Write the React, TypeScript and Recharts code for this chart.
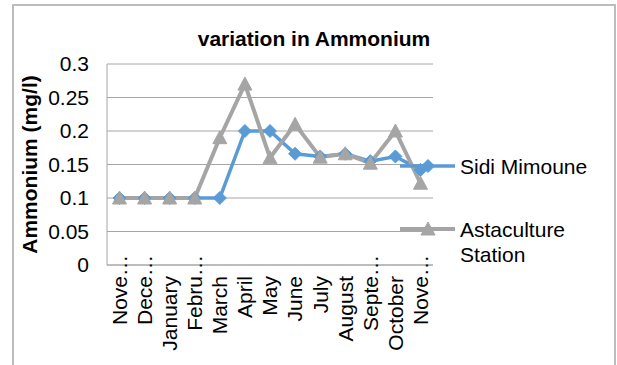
import React from 'react';
import { LineChart, Line, XAxis, YAxis, CartesianGrid, Legend, Label } from 'recharts';

const months = ['Nove…', 'Dece…', 'January', 'Febru…', 'March', 'April', 'May', 'June', 'July', 'August', 'Septe…', 'October', 'Nove…'];
const sidiMimoune = [0.1, 0.1, 0.1, 0.1, 0.1, 0.2, 0.2, 0.166, 0.162, 0.166, 0.155, 0.162, 0.142];
const astaculture = [0.1, 0.1, 0.1, 0.1, 0.19, 0.27, 0.16, 0.21, 0.161, 0.166, 0.152, 0.2, 0.122];
const yTicks = [0, 0.05, 0.1, 0.15, 0.2, 0.25, 0.3];

const data = months.map((m, i) => ({ month: m, sidi: sidiMimoune[i], asta: astaculture[i] }));

const FONT = '"Liberation Sans", Arial, sans-serif';
const FS = 21;
const BLUE = '#5b9bd5';
const GREY = '#a5a5a5';
const GRID = '#a6a6a6';

const Diamond = ({ cx, cy }: any) => (
    <path d={`M${cx},${cy - 6.5} L${cx + 6.5},${cy} L${cx},${cy + 6.5} L${cx - 6.5},${cy} Z`} fill={BLUE} stroke={BLUE} />
);

const Triangle = ({ cx, cy }: any) => (
    <path d={`M${cx},${cy - 7} L${cx + 7},${cy + 6} L${cx - 7},${cy + 6} Z`} fill={GREY} stroke={GREY} />
);

// rotated month label, a trailing ellipsis sticks out above the axis like in Excel
const MonthTick = ({ x, y, payload }: any) => {
    const v: string = payload.value;
    const cut = v.endsWith('…');
    const txt = cut ? v.slice(0, -1) : v;
    return (
        <g transform={`translate(${x},${y})`}>
            <text transform="rotate(-90)" x={-3} dy="0.35em" textAnchor="end" fontSize={FS} fontFamily={FONT} fill="#000">
                {txt}
            </text>
            {cut && (
                <text transform="rotate(-90)" x={-3} dy="0.35em" textAnchor="start" fontSize={FS} fontFamily={FONT} fill="#000">
                    …
                </text>
            )}
        </g>
    );
};

const LegendBox = () => (
    <svg width={215} height={130} style={{ display: 'block' }}>
        <line x1={2} y1={26} x2={57} y2={26} stroke={BLUE} strokeWidth={3.5} />
        <Diamond cx={30} cy={26} />
        <text x={62} y={33.5} fontSize={FS} fontFamily={FONT} fill="#000">Sidi Mimoune</text>
        <line x1={2} y1={89} x2={57} y2={89} stroke={GREY} strokeWidth={4} />
        <Triangle cx={30} cy={89} />
        <text x={62} y={96.5} fontSize={FS} fontFamily={FONT} fill="#000">Astaculture</text>
        <text x={62} y={121.5} fontSize={FS} fontFamily={FONT} fill="#000">Station</text>
    </svg>
);

const App = () => {
    return (
        <div style={{ position: 'absolute', left: 0, top: 0, width: 617, height: 365, overflow: 'hidden', background: '#fff' }}>
            <div style={{ position: 'absolute', left: 12, top: 4, width: 600, height: 380, border: '2px solid #bdbdbd' }} />
            <div
                style={{
                    position: 'absolute', left: 114, top: 28, width: 400, textAlign: 'center',
                    fontFamily: FONT, fontSize: FS, lineHeight: '21px', fontWeight: 'bold', color: '#000',
                }}
            >
                variation in Ammonium
            </div>
            <div style={{ position: 'absolute', left: 0, top: 0 }}>
                <LineChart width={617} height={365} data={data} margin={{ top: 64, right: 184, left: 0, bottom: 0 }}>
                    <CartesianGrid vertical={false} stroke={GRID} />
                    <XAxis
                        dataKey="month"
                        interval={0}
                        height={100}
                        padding={{ left: 12.5, right: 12.5 }}
                        tickLine={false}
                        axisLine={{ stroke: GRID }}
                        tick={(p: any) => <MonthTick {...p} />}
                    />
                    <YAxis
                        width={107}
                        domain={[0, 0.3]}
                        ticks={yTicks}
                        tickLine={false}
                        tickMargin={12}
                        axisLine={{ stroke: GRID }}
                        tick={{ fontSize: FS, fill: '#000', fontFamily: FONT }}
                    >
                        <Label
                            content={({ viewBox }: any) => {
                                const cx = viewBox.x + 37;
                                const cy = viewBox.y + viewBox.height / 2;
                                return (
                                    <text x={cx} y={cy} transform={`rotate(-90 ${cx} ${cy})`} textAnchor="middle"
                                        fontSize={FS} fontWeight="bold" fontFamily={FONT} fill="#000">
                                        Ammonium (mg/l)
                                    </text>
                                );
                            }}
                        />
                    </YAxis>
                    <Legend
                        layout="vertical"
                        align="center"
                        verticalAlign="middle"
                        wrapperStyle={{ left: 398, top: 140, width: 215, height: 130 }}
                        content={() => <LegendBox />}
                    />
                    <Line dataKey="sidi" name="Sidi Mimoune" stroke={BLUE} strokeWidth={3.5} dot={(p: any) => <Diamond key={p.index} {...p} />} isAnimationActive={false} />
                    <Line dataKey="asta" name="Astaculture Station" stroke={GREY} strokeWidth={4} dot={(p: any) => <Triangle key={p.index} {...p} />} isAnimationActive={false} />
                </LineChart>
            </div>
        </div>
    );
};

export default App;
